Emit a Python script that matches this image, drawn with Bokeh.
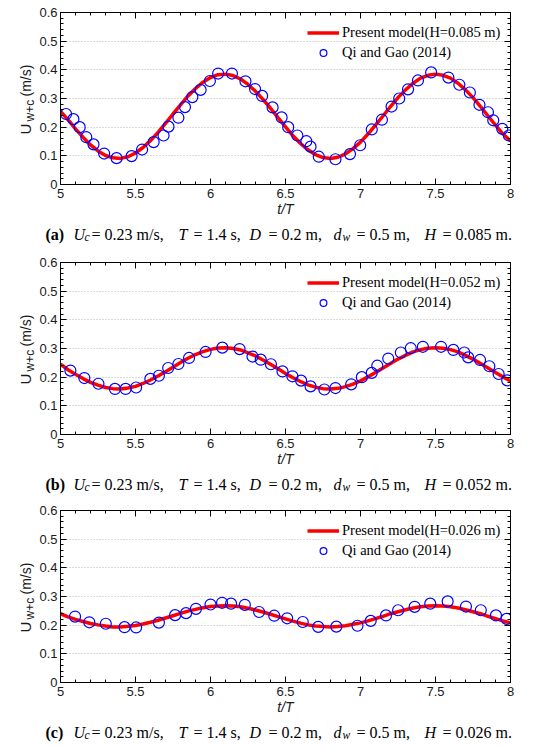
import math
from bokeh.plotting import figure
from bokeh.models import (Range1d, SingleIntervalTicker, LinearAxis, NumeralTickFormatter,
                          Label, Grid)
from bokeh.layouts import column, row
from bokeh.embed import file_html
from bokeh.resources import INLINE

# ---------------- data ----------------
t_model = [5.00, 5.05, 5.10, 5.15, 5.20, 5.25, 5.30, 5.35, 5.40, 5.45,
           5.50, 5.55, 5.60, 5.65, 5.70, 5.75, 5.80, 5.85, 5.90, 5.95,
           6.00, 6.05, 6.10, 6.15, 6.20, 6.25, 6.30, 6.35, 6.40, 6.45,
           6.50, 6.55, 6.60, 6.65, 6.70, 6.75, 6.80, 6.85, 6.90, 6.95,
           7.00, 7.05, 7.10, 7.15, 7.20, 7.25, 7.30, 7.35, 7.40, 7.45,
           7.50, 7.55, 7.60, 7.65, 7.70, 7.75, 7.80, 7.85, 7.90, 7.95,
           8.00]

a_model_u = [0.255, 0.226, 0.194, 0.165, 0.138, 0.117, 0.101, 0.093, 0.091, 0.097,
             0.110, 0.129, 0.153, 0.182, 0.213, 0.246, 0.278, 0.309, 0.335, 0.357,
             0.373, 0.383, 0.385, 0.380, 0.368, 0.349, 0.325, 0.297, 0.266, 0.233,
             0.201, 0.170, 0.143, 0.121, 0.104, 0.094, 0.091, 0.095, 0.107, 0.125,
             0.148, 0.176, 0.207, 0.239, 0.272, 0.303, 0.330, 0.353, 0.371, 0.381,
             0.385, 0.381, 0.371, 0.353, 0.330, 0.303, 0.272, 0.239, 0.207, 0.176,
             0.152]
b_model_u = [0.245, 0.226, 0.210, 0.195, 0.182, 0.172, 0.164, 0.160, 0.159, 0.162,
             0.168, 0.178, 0.190, 0.204, 0.219, 0.235, 0.251, 0.266, 0.279, 0.289,
             0.297, 0.302, 0.303, 0.300, 0.295, 0.285, 0.274, 0.260, 0.245, 0.229,
             0.213, 0.198, 0.185, 0.173, 0.165, 0.160, 0.159, 0.161, 0.167, 0.176,
             0.187, 0.201, 0.216, 0.232, 0.248, 0.263, 0.276, 0.288, 0.296, 0.301,
             0.303, 0.301, 0.296, 0.288, 0.276, 0.263, 0.248, 0.232, 0.216, 0.201,
             0.187]
c_model_u = [0.240, 0.229, 0.220, 0.213, 0.206, 0.201, 0.197, 0.194, 0.194, 0.196,
             0.199, 0.204, 0.210, 0.217, 0.225, 0.233, 0.241, 0.249, 0.255, 0.261,
             0.265, 0.267, 0.268, 0.267, 0.264, 0.259, 0.253, 0.246, 0.238, 0.230,
             0.222, 0.214, 0.207, 0.201, 0.197, 0.195, 0.194, 0.195, 0.198, 0.203,
             0.208, 0.215, 0.223, 0.231, 0.240, 0.247, 0.254, 0.260, 0.264, 0.267,
             0.268, 0.267, 0.264, 0.260, 0.254, 0.247, 0.240, 0.231, 0.223, 0.215,
             0.208]

a_obs_t = [5.037, 5.086, 5.128, 5.172, 5.220, 5.291, 5.374, 5.474, 5.544, 5.621,
           5.687, 5.720, 5.786, 5.830, 5.879, 5.934, 5.996, 6.051, 6.143, 6.233,
           6.297, 6.344, 6.414, 6.474, 6.518, 6.579, 6.639, 6.667, 6.722, 6.833,
           6.930, 6.998, 7.075, 7.143, 7.207, 7.258, 7.317, 7.383, 7.471, 7.586,
           7.659, 7.729, 7.793, 7.850, 7.885, 7.945, 7.989]
a_obs_u = [0.246, 0.228, 0.200, 0.165, 0.140, 0.108, 0.092, 0.099, 0.122, 0.148,
           0.171, 0.202, 0.233, 0.270, 0.305, 0.330, 0.361, 0.387, 0.387, 0.360,
           0.333, 0.309, 0.269, 0.234, 0.200, 0.171, 0.151, 0.132, 0.097, 0.088,
           0.106, 0.137, 0.192, 0.226, 0.272, 0.300, 0.332, 0.363, 0.391, 0.373,
           0.348, 0.321, 0.278, 0.252, 0.224, 0.194, 0.171]

b_obs_t = [5.066, 5.159, 5.253, 5.363, 5.434, 5.504, 5.599, 5.656, 5.718, 5.786,
           5.857, 5.967, 6.079, 6.194, 6.280, 6.335, 6.403, 6.480, 6.546, 6.604,
           6.667, 6.759, 6.833, 6.938, 7.009, 7.075, 7.112, 7.185, 7.269, 7.335,
           7.416, 7.537, 7.619, 7.692, 7.718, 7.797, 7.859, 7.921, 7.978]
b_obs_u = [0.223, 0.197, 0.177, 0.159, 0.159, 0.164, 0.194, 0.205, 0.232, 0.246,
           0.267, 0.288, 0.303, 0.298, 0.272, 0.261, 0.245, 0.220, 0.203, 0.188,
           0.168, 0.157, 0.162, 0.175, 0.200, 0.215, 0.240, 0.265, 0.286, 0.301,
           0.306, 0.306, 0.295, 0.286, 0.269, 0.260, 0.238, 0.211, 0.189]

c_obs_t = [5.097, 5.192, 5.302, 5.427, 5.504, 5.656, 5.764, 5.837, 5.903, 6.000,
           6.077, 6.137, 6.229, 6.324, 6.425, 6.511, 6.615, 6.718, 6.839, 6.980,
           7.068, 7.170, 7.251, 7.361, 7.465, 7.581, 7.703, 7.802, 7.903, 7.974]
c_obs_u = [0.230, 0.210, 0.205, 0.193, 0.192, 0.209, 0.235, 0.242, 0.257, 0.272,
           0.278, 0.275, 0.271, 0.246, 0.233, 0.224, 0.211, 0.194, 0.195, 0.198,
           0.215, 0.234, 0.252, 0.264, 0.275, 0.283, 0.265, 0.252, 0.234, 0.222]

panel_letters = ["a", "b", "c"]
wave_heights = ["0.085", "0.052", "0.026"]
obs_label = "Qi and Gao (2014)"
x_tick_interval = 0.5
y_tick_interval = 0.1

SANS = "Liberation Sans"
SERIF = "Liberation Serif"
INK = "#1a1a1a"

YLAB_W = 36                      # strip holding the rotated y title
BORDER_L = 21
FRAME_W = 453
BORDER_R = 8
MAIN_W = BORDER_L + FRAME_W + BORDER_R
TOTAL_W = YLAB_W + MAIN_W
FRAME_H = 173
MAIN_BOTTOM = 34


def style_axis(ax, show_labels, standoff=4):
    ax.axis_line_color = "black"
    ax.axis_line_width = 1
    ax.major_tick_line_color = "black"
    ax.minor_tick_line_color = "black"
    ax.major_tick_in = 6
    ax.major_tick_out = 0
    ax.minor_tick_in = 3
    ax.minor_tick_out = 0
    if show_labels:
        ax.major_label_text_font = SANS
        ax.major_label_text_font_size = "13px"
        ax.major_label_text_color = INK
        ax.major_label_standoff = standoff
    else:
        ax.major_label_text_color = None
        ax.major_label_text_font_size = "1px"
        ax.major_label_standoff = 0


def blank_fig(w, h):
    f = figure(width=w, height=h, x_range=Range1d(0, 1), y_range=Range1d(0, 1),
               output_backend="svg", toolbar_location=None, title=None,
               x_axis_type=None, y_axis_type=None, min_border=0)
    f.outline_line_color = None
    f.background_fill_color = "white"
    f.border_fill_color = "white"
    return f


def add_label(f, text, x, y, size, font=SERIF, style="normal", angle=0.0, color="black"):
    f.add_layout(Label(x=x, y=y, x_units="screen", y_units="screen", text=text,
                       text_font=font, text_font_size=size, text_font_style=style,
                       text_color=color, angle=angle, text_align="left",
                       text_baseline="alphabetic"))


def make_main(h_str, t_obs, u_obs, u_model, border_top):
    p = figure(width=MAIN_W, height=border_top + FRAME_H + MAIN_BOTTOM,
               x_range=Range1d(5, 8), y_range=Range1d(0, 0.6 + 1e-9),
               output_backend="svg", toolbar_location=None, title=None,
               x_axis_type=None, y_axis_type=None,
               min_border_left=BORDER_L, min_border_right=BORDER_R,
               min_border_top=border_top, min_border_bottom=MAIN_BOTTOM)
    p.background_fill_color = "white"
    p.border_fill_color = "white"
    p.outline_line_color = "black"
    p.outline_line_width = 1

    xt = SingleIntervalTicker(interval=x_tick_interval, num_minor_ticks=5)
    yt = SingleIntervalTicker(interval=y_tick_interval, num_minor_ticks=5)
    fmt = NumeralTickFormatter(format="0.[0]")

    xb = LinearAxis(ticker=xt, formatter=fmt)
    style_axis(xb, True, 4)
    xb.axis_label = "t/T"
    xb.axis_label_text_font = SANS
    xb.axis_label_text_font_style = "italic"
    xb.axis_label_text_font_size = "14px"
    xb.axis_label_text_color = INK
    xb.axis_label_standoff = 0
    p.add_layout(xb, "below")

    xa = LinearAxis(ticker=xt, formatter=fmt)
    style_axis(xa, False)
    p.add_layout(xa, "above")

    yl = LinearAxis(ticker=yt, formatter=fmt)
    style_axis(yl, True, 3)
    p.add_layout(yl, "left")

    yr = LinearAxis(ticker=yt, formatter=fmt)
    style_axis(yr, False)
    p.add_layout(yr, "right")

    p.add_layout(Grid(dimension=1, ticker=yt, grid_line_color="#b4b4b4",
                      grid_line_dash="1 2", grid_line_width=1))

    p.line(t_model, u_model, line_color="#ff0000", line_width=3.5,
           legend_label=f"Present model(H={h_str} m)")
    p.scatter(t_obs, u_obs, marker="circle", size=11, fill_color=None,
              line_color="#0000ff", line_width=1.2, legend_label=obs_label)

    lg = p.legend[0]
    lg.location = (247, 123.5)
    lg.margin = 0
    lg.padding = 9
    lg.spacing = 3
    lg.glyph_width = 32
    lg.glyph_height = 17
    lg.label_height = 17
    lg.label_standoff = 3
    lg.label_text_font = SERIF
    lg.label_text_font_size = "14.5px"
    lg.label_text_color = "black"
    lg.background_fill_alpha = 0
    lg.border_line_color = None
    return p


def make_ylabel(fig_h):
    f = blank_fig(YLAB_W, fig_h)
    rot = math.pi / 2
    bb = MAIN_BOTTOM
    add_label(f, "U", 25, bb + 16, "15px", font=SANS, angle=rot, color=INK)
    add_label(f, "w+c", 29, bb + 29, "12px", font=SANS, angle=rot, color=INK)
    add_label(f, "(m/s)", 25, bb + 54, "14px", font=SANS, angle=rot, color=INK)
    return f


def make_caption(letter, h_str, cap_h, base):
    f = blank_fig(TOTAL_W, cap_h)
    sub = base - 3
    fs = "16px"
    pieces = [
        (f"({letter})", 45, base, fs, "bold"),
        ("U", 73, base, fs, "italic"),
        ("c", 84, sub, "11.5px", "italic"),
        ("= 0.23 m/s,", 91, base, fs, "normal"),
        ("T", 178, base, fs, "italic"),
        ("= 1.4 s,", 193, base, fs, "normal"),
        ("D", 249, base, fs, "italic"),
        ("= 0.2 m,", 268, base, fs, "normal"),
        ("d", 333, base, fs, "italic"),
        ("w", 342, sub, "11.5px", "italic"),
        ("= 0.5 m,", 356, base, fs, "normal"),
        ("H", 424, base, fs, "italic"),
        (f"= {h_str} m.", 442, base, fs, "normal"),
    ]
    for text, x, y, size, style in pieces:
        add_label(f, text, x, y, size, style=style)
    return f


def make_panel(letter, h_str, t_obs, u_obs, u_model, border_top, cap_h, cap_base):
    fig_h = border_top + FRAME_H + MAIN_BOTTOM
    main = make_main(h_str, t_obs, u_obs, u_model, border_top)
    ylab = make_ylabel(fig_h)
    cap = make_caption(letter, h_str, cap_h, cap_base)
    return column(row(ylab, main, spacing=0), cap, spacing=0)


pa = make_panel(panel_letters[0], wave_heights[0], a_obs_t, a_obs_u, a_model_u, 12, 31, 16.5)
pb = make_panel(panel_letters[1], wave_heights[1], b_obs_t, b_obs_u, b_model_u, 12, 31, 16.5)
pc = make_panel(panel_letters[2], wave_heights[2], c_obs_t, c_obs_u, c_model_u, 10, 29, 14.5)

layout = column(pa, pb, pc, spacing=0)
open("out.html", "w").write(file_html(layout, INLINE))
